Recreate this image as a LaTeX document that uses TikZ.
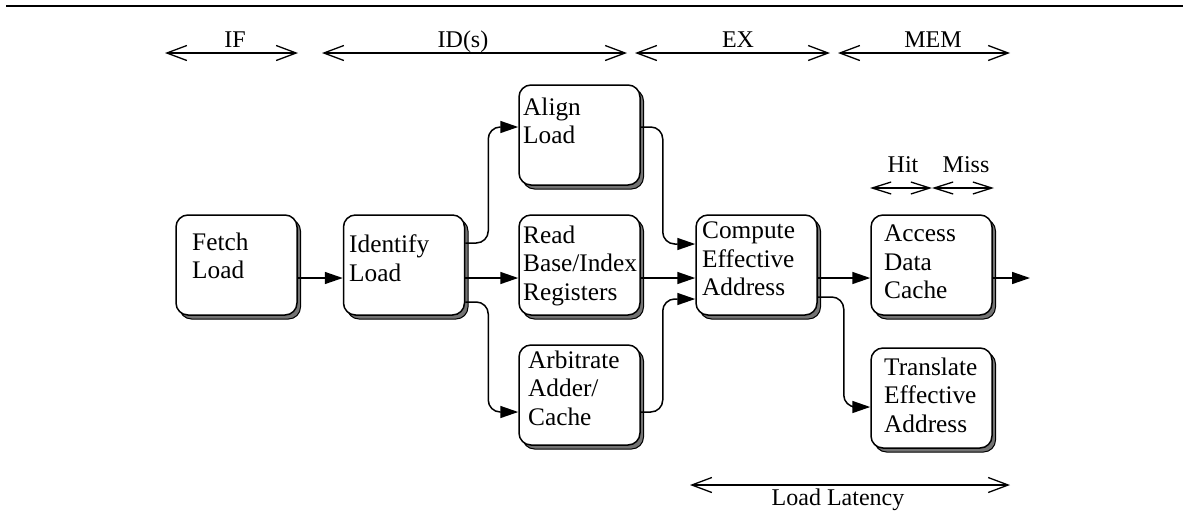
\documentclass[tikz,border=0pt]{standalone}
\usepackage{fontspec}
\setmainfont{Liberation Serif}
\usetikzlibrary{arrows.meta,shadows}
\newcommand\bodyfont{\fontsize{25.3}{28.5}\selectfont}
\newcommand\smallbody{\fontsize{24}{28}\selectfont}
\tikzset{
  stagebox/.style={draw, line width=1.5pt, rounded corners=12pt, fill=white,
    minimum width=121pt, minimum height=100pt, inner sep=0pt,
    drop shadow={shadow xshift=3.5pt, shadow yshift=-4pt, opacity=1,
      fill=black!55, draw=black, line width=1pt}},
  boxtext/.style={align=left, anchor=north west, inner sep=0pt, font=\bodyfont},
  conn/.style={line width=1.5pt, -{Triangle[length=18pt,width=12pt]}},
  bendconn/.style={conn, rounded corners=12pt},
  span/.style={line width=1.3pt,
    {Straight Barb[length=20pt,width=15pt]}-{Straight Barb[length=20pt,width=15pt]}},
  shortspan/.style={line width=1.3pt,
    {Straight Barb[length=19pt,width=12pt]}-{Straight Barb[length=19pt,width=12pt]}},
  spanlabel/.style={anchor=base, inner sep=0pt, font=\smallbody},
}
\begin{document}
\begin{tikzpicture}[x=1pt, y=-1pt]
\useasboundingbox (0,0) rectangle (1183,531);

% rule across the top
\draw[line width=2.5pt] (6,6) -- (1183,6);

% pipeline stage spans
\coordinate (ifL) at (165,53);  \coordinate (ifR) at (298,53);
\coordinate (idL) at (322,53);  \coordinate (idR) at (627,53);
\coordinate (exL) at (635,53);  \coordinate (exR) at (830,53);
\coordinate (memL) at (838,53); \coordinate (memR) at (1010,53);
\draw[span] (ifL) -- (ifR);
\draw[span] (idL) -- (idR);
\draw[span] (exL) -- (exR);
\draw[span] (memL) -- (memR);
\node[spanlabel] (ifLbl)  at (235,47) {IF};
\node[spanlabel] (idLbl)  at (463,47) {ID(s)};
\node[spanlabel] (exLbl)  at (738,47) {EX};
\node[spanlabel] (memLbl) at (933,47) {MEM};

% hit / miss
\coordinate (hitL) at (870,188); \coordinate (hitR) at (932,188);
\coordinate (missR) at (994,188);
\draw[shortspan] (hitL) -- (hitR);
\draw[shortspan] (hitR) -- (missR);
\node[spanlabel] (hitLbl)  at (903,172) {Hit};
\node[spanlabel] (missLbl) at (966,172) {Miss};

% stages
\node[stagebox] (fetch)  at (236.5,265) {};
\node[stagebox] (ident)  at (404,265) {};
\node[stagebox] (align)  at (579.5,135) {};
\node[stagebox] (read)   at (579.5,265) {};
\node[stagebox] (arb)    at (579.5,395) {};
\node[stagebox] (comp)   at (756.5,265) {};
\node[stagebox] (access) at (931.5,265) {};
\node[stagebox] (trans)  at (931.5,398) {};

\node[boxtext] (fetchT)  at (192,232.7) {Fetch\\Load};
\node[boxtext] (identT)  at (349,234.7) {Identify\\Load};
\node[boxtext] (alignT)  at (523,97.7)  {Align\\Load};
\node[boxtext] (readT)   at (523,225.7) {Read\\Base/Index\\Registers};
\node[boxtext] (arbT)    at (528,350.7) {Arbitrate\\Adder/\\Cache};
\node[boxtext] (compT)   at (702,221.7) {Compute\\Effective\\Address};
\node[boxtext] (accessT) at (884,224.7) {Access\\Data\\Cache};
\node[boxtext] (transT)  at (884,357.7) {Translate\\Effective\\Address};

% connections
\draw[conn] ([yshift=-13pt]fetch.east) -- ([yshift=-13pt]ident.west);
\draw[conn] ([yshift=-13pt]ident.east) -- ([yshift=-13pt]read.west);
\draw[bendconn] ([yshift=22pt]ident.east) -- ++(23,0) |- ([yshift=8pt]align.west);
\draw[bendconn] ([yshift=-37pt]ident.east) -- ++(23,0) |- ([yshift=-17pt]arb.west);
\draw[bendconn] ([yshift=8pt]align.east) -- ++(22,0) |- ([yshift=21pt]comp.west);
\draw[conn] ([yshift=-13pt]read.east) -- ([yshift=-13pt]comp.west);
\draw[bendconn] ([yshift=-17pt]arb.east) -- ++(22,0) |- ([yshift=-34pt]comp.west);
\draw[conn] ([yshift=-13pt]comp.east) -- ([yshift=-13pt]access.west);
\coordinate (out) at (1030,278);
\draw[conn] ([yshift=-13pt]access.east) -- (out);
\draw[bendconn] ([yshift=-32pt]comp.east) -- ++(26,0) |- ([yshift=-9pt]trans.west);

% load latency
\coordinate (latL) at (690,485); \coordinate (latR) at (1010,485);
\draw[span] (latL) -- (latR);
\node[spanlabel] (latLbl) at (838,505) {Load Latency};
\end{tikzpicture}
\end{document}
